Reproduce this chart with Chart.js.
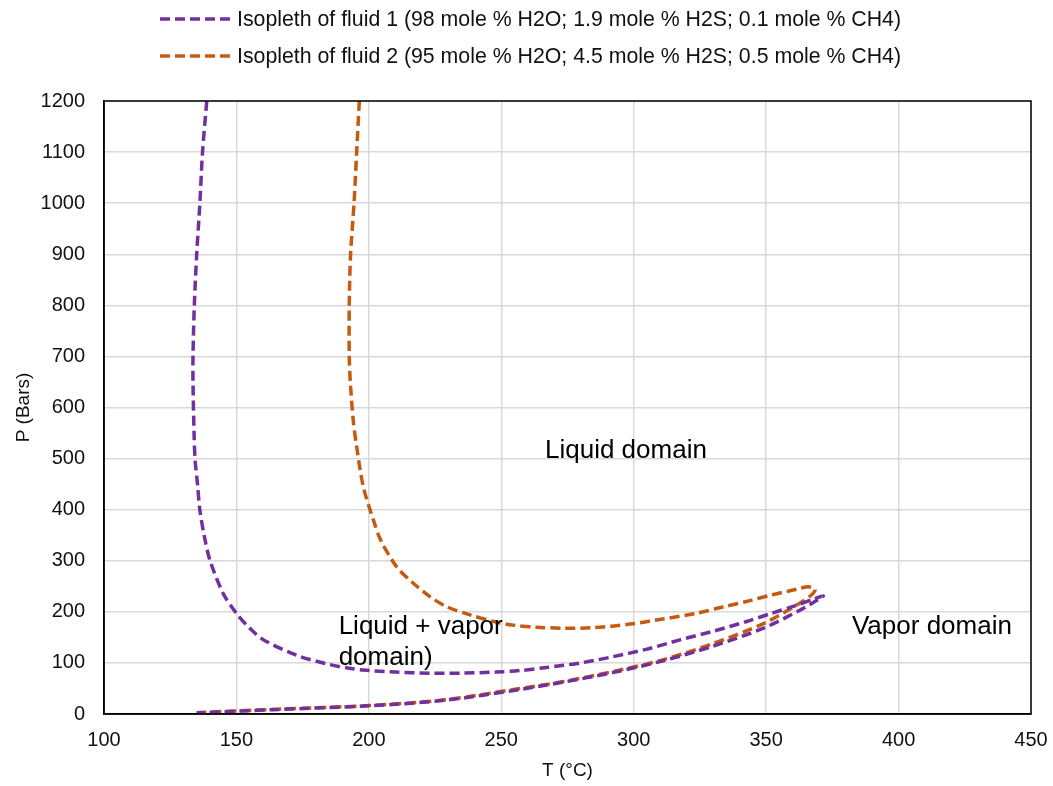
<!DOCTYPE html>
<html>
<head>
<meta charset="utf-8">
<script src="https://cdn.jsdelivr.net/npm/chart.js@4.4.1/dist/chart.umd.min.js"></script>
<style>
  body { margin: 0; background: #fff; }
  #wrap { position: relative; width: 1053px; height: 786px; }
  #chart { position: absolute; left: 0; top: 0; }
  .leg { position: absolute; left: 4px; width: 1053px; height: 26px; display: flex; justify-content: center; align-items: center;
         font-family: "Liberation Sans", Arial, sans-serif; font-size: 21.3px; color: #111; }
  .leg svg { margin-right: 5px; }
</style>
</head>
<body>
<div id="wrap">
  <canvas id="chart" width="1053" height="786"></canvas>
  <div class="leg" style="top:6px"><svg width="72" height="8"><line x1="0" y1="4" x2="72" y2="4" stroke="#7030A0" stroke-width="3.5" stroke-dasharray="10 5"/></svg><span>Isopleth of fluid 1 (98 mole % H2O; 1.9 mole % H2S; 0.1 mole % CH4)</span></div>
  <div class="leg" style="top:43px"><svg width="72" height="8"><line x1="0" y1="4" x2="72" y2="4" stroke="#C55A11" stroke-width="3.5" stroke-dasharray="10 5"/></svg><span>Isopleth of fluid 2 (95 mole % H2O; 4.5 mole % H2S; 0.5 mole % CH4)</span></div>
</div>
<script>
// fluid 1 isopleth: down the liquid side, round the bottom, out to the tip and back along the low branch
let fluid1T = [138.8, 137.2, 136.2, 135.0, 134.1, 133.6, 133.6, 134.0, 134.4, 135.3, 136.2, 137.8, 140, 145, 150, 155, 160, 172.7, 185, 192, 198, 210, 223, 235, 248, 257, 267, 280, 292, 305, 317.4, 330, 342.6, 352, 361.5, 368, 371.6,
               369, 362.7, 349, 330, 311, 292, 273, 257, 229, 200, 166, 150, 135];
let fluid1P = [1200, 1100, 1000, 900, 800, 700, 650, 550, 497, 450, 399, 350, 301, 236, 197, 168, 146, 115, 97, 90, 86, 82, 80, 80, 82, 85, 91, 100, 112, 127, 145, 162, 181, 197, 213, 225, 231,
               222, 203, 168, 133, 104, 81, 62, 48, 27, 16, 9, 5.5, 2];

// fluid 2 isopleth
let fluid2T = [196.4, 195.4, 194.4, 193.1, 192.6, 192.6, 193.0, 194.1, 195.4, 197.9, 201.7, 204.5, 210.5, 216.8, 223, 229.4, 238.2, 248, 254.5, 263, 273.4, 285, 298.6, 311, 323.7, 334, 343.9, 352, 358, 362, 366, 368.5,
               367.5, 362.7, 349, 330, 311, 292, 273, 257, 229, 200, 166, 150, 135];
let fluid2P = [1200, 1100, 1000, 900, 800, 700, 650, 575, 523, 445, 380, 340, 288, 256, 230, 210, 194, 180, 174, 170, 168, 169, 176, 186, 197, 210, 222, 233, 240, 245, 249, 244,
               235, 217, 177, 138, 106, 83, 63, 50, 28, 16.5, 9.5, 6, 2.5];

let seriesNames = [
  "Isopleth of fluid 1 (98 mole % H2O; 1.9 mole % H2S; 0.1 mole % CH4)",
  "Isopleth of fluid 2 (95 mole % H2O; 4.5 mole % H2S; 0.5 mole % CH4)"
];

// domain labels, placed in data units (T, P)
let notes = [
  { text: "Liquid domain", t: 266.5, p: 515 },
  { text: "Liquid + vapor", t: 188.6, p: 170 },
  { text: "domain)", t: 188.6, p: 110 },
  { text: "Vapor domain", t: 382.4, p: 170 }
];

const FONT = "'Liberation Sans', Arial, sans-serif";

function toPoints(xs, ys) {
  return xs.map((x, i) => ({ x: x, y: ys[i] }));
}

// black frame round the plot area
const frame = {
  id: "frame",
  afterDraw(chart) {
    const a = chart.chartArea, c = chart.ctx;
    c.save();
    c.strokeStyle = "#000";
    c.lineWidth = 1.5;
    c.strokeRect(a.left, a.top, a.right - a.left, a.bottom - a.top);
    c.restore();
  }
};

const domainLabels = {
  id: "domainLabels",
  afterDatasetsDraw(chart) {
    const c = chart.ctx, xs = chart.scales.x, ys = chart.scales.y;
    c.save();
    c.font = "26px " + FONT;
    c.fillStyle = "#000";
    c.textAlign = "left";
    c.textBaseline = "middle";
    notes.forEach(n => {
      c.fillText(n.text, xs.getPixelForValue(n.t), ys.getPixelForValue(n.p));
    });
    c.restore();
  }
};

function lineSet(label, pts, color) {
  return {
    label: label,
    data: pts,
    showLine: true,
    borderColor: color,
    borderWidth: 3.5,
    borderDash: [10, 5],
    pointRadius: 0,
    tension: 0.3,
    fill: false
  };
}

new Chart(document.getElementById("chart"), {
  type: "scatter",
  data: {
    datasets: [
      lineSet(seriesNames[0], toPoints(fluid1T, fluid1P), "#7030A0"),
      lineSet(seriesNames[1], toPoints(fluid2T, fluid2P), "#C55A11")
    ]
  },
  options: {
    responsive: false,
    animation: false,
    layout: { padding: { left: 0, top: 101, right: 22, bottom: 0 } },
    plugins: {
      legend: { display: false },
      tooltip: { enabled: false }
    },
    scales: {
      x: {
        type: "linear",
        min: 100,
        max: 450,
        afterFit: s => { s.height = 72; s.paddingLeft = 0; s.paddingRight = 0; },
        ticks: { stepSize: 50, padding: 14, color: "#111", font: { family: FONT, size: 20 }, callback: v => String(v) },
        grid: { color: "#d9d9d9", lineWidth: 1.5, drawTicks: false },
        border: { color: "#000", width: 1.5 },
        title: { display: true, text: "T (°C)", color: "#111", font: { family: FONT, size: 19 }, padding: { top: 0, bottom: 4 } }
      },
      y: {
        type: "linear",
        min: 0,
        max: 1200,
        afterFit: s => { s.width = 104; s.paddingTop = 0; s.paddingBottom = 0; },
        ticks: { stepSize: 100, padding: 19, color: "#111", font: { family: FONT, size: 20 }, callback: v => String(v) },
        grid: { color: "#d9d9d9", lineWidth: 1.5, drawTicks: false },
        border: { color: "#000", width: 1.5 },
        title: { display: true, text: "P (Bars)", color: "#111", font: { family: FONT, size: 19 }, padding: { top: 12, bottom: 0 } }
      }
    }
  },
  plugins: [frame, domainLabels]
});
</script>
</body>
</html>
